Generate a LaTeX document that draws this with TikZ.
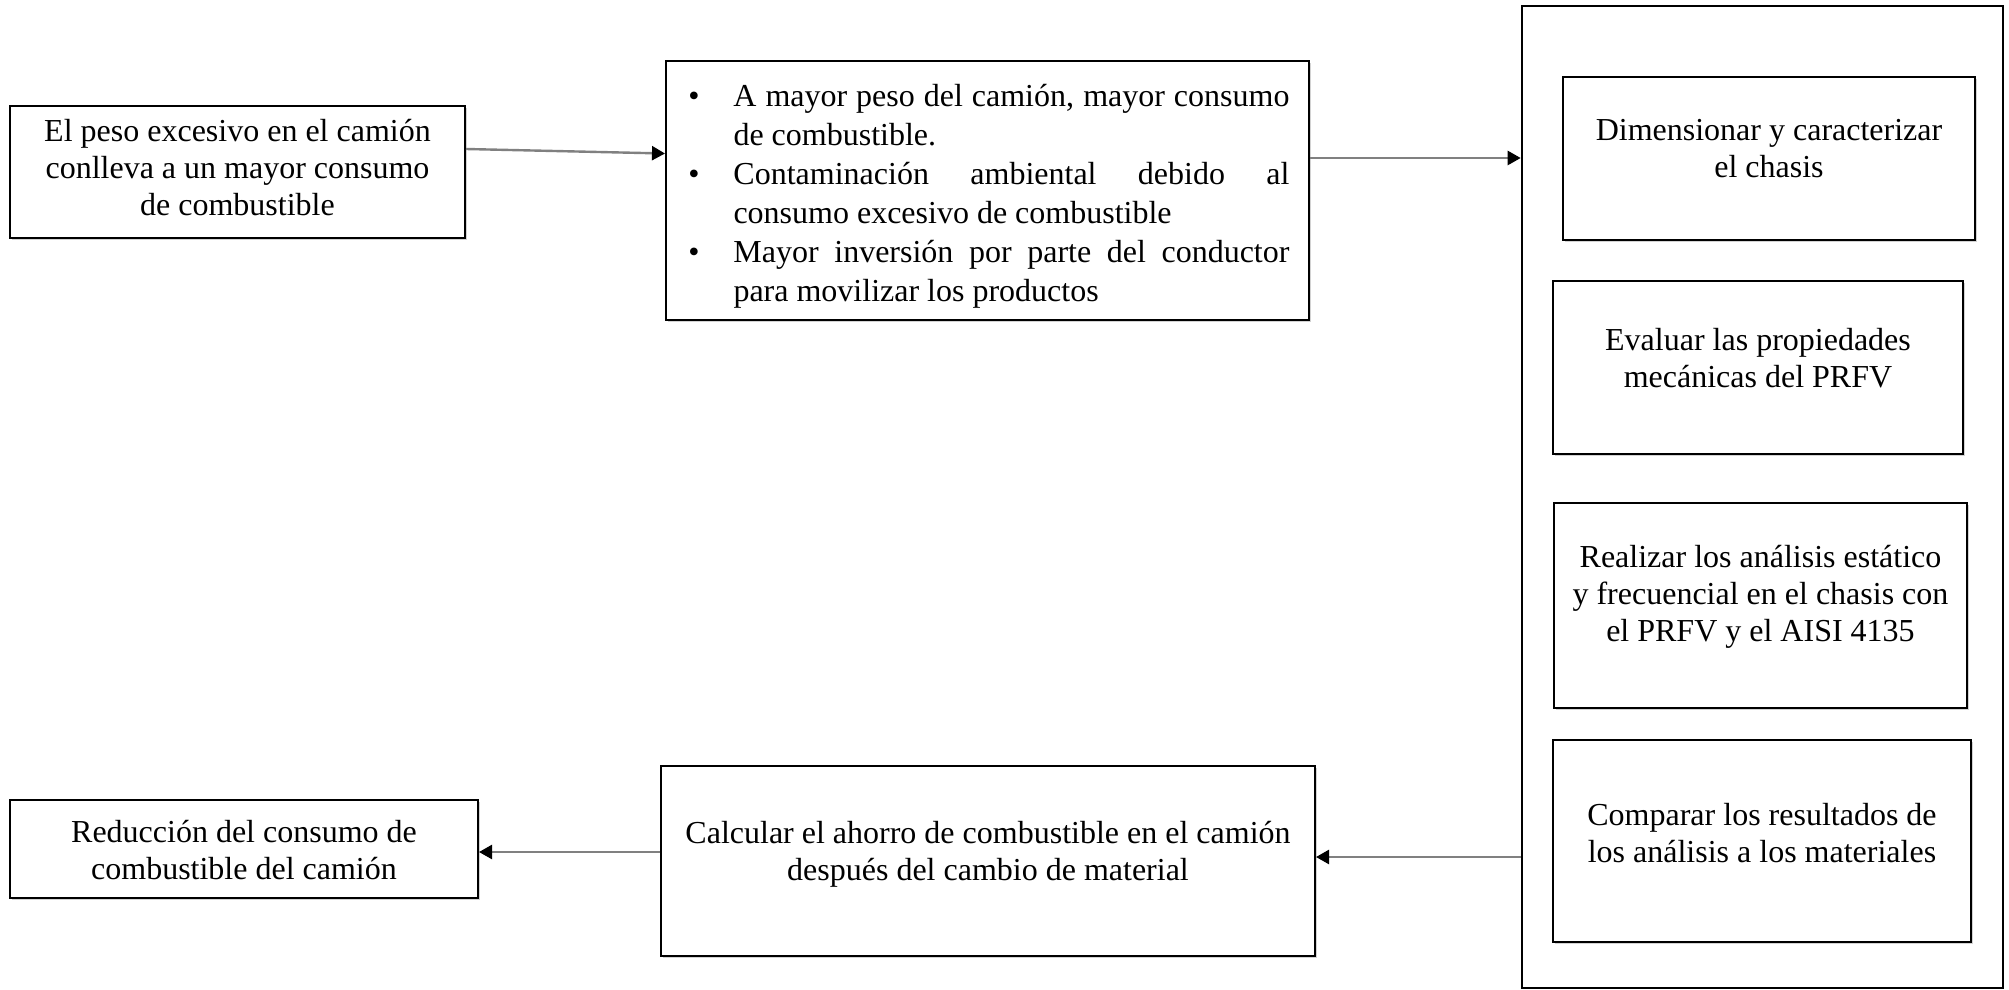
\documentclass[tikz,border=0pt]{standalone}
\usepackage{fontspec}
\setmainfont{Liberation Serif}
\usetikzlibrary{arrows.meta,shadows}
\hbadness=10000
\begin{document}
\begin{tikzpicture}[x=0.5pt,y=-0.5pt,
  box/.style={draw=black,line width=1pt,fill=white,rectangle,inner sep=0pt,
    drop shadow={shadow xshift=0.8pt,shadow yshift=-0.8pt,fill=black!35}},
  txt/.style={align=center,inner sep=0pt,font=\fontsize{16}{18.5}\selectfont},
  arr/.style={draw=black!50,line width=1.2pt,-{Triangle[length=6.5pt,width=7pt,black]}}]
\useasboundingbox (0,0) rectangle (2009,990);
% outer frame
\node[draw=black,line width=1.3pt,rectangle,inner sep=0pt,minimum width=240.5pt,minimum height=491pt] (big) at (1762.5,497) {};
% left top
\node[box,minimum width=227.5pt,minimum height=66pt] (b1) at (237.5,172) {};
\node[txt] (t1) at ([yshift=2.25pt]b1.center) {El peso excesivo en el camión\\conlleva a un mayor consumo\\de combustible};
% middle top
\node[box,minimum width=321.5pt,minimum height=129.5pt] (b2) at (987.5,190.5) {};
\node[txt,align=justify,text width=278pt,font=\fontsize{16}{19.5}\selectfont] (t2) at ([xshift=12pt,yshift=-3pt]b2.center) {%
\noindent\llap{\textbullet\hspace{17pt}}A mayor peso del camión, mayor consumo\linebreak de combustible.\par
\noindent\llap{\textbullet\hspace{17pt}}Contaminación ambiental debido al\linebreak consumo excesivo de combustible\par
\noindent\llap{\textbullet\hspace{17pt}}Mayor inversión por parte del conductor\linebreak para movilizar los productos\par};
% inner boxes
\node[box,minimum width=206pt,minimum height=81.5pt] (A) at (1769,158.5) {};
\node[txt] (tA) at ([yshift=4.75pt]A.center) {Dimensionar y caracterizar\\el chasis};
\node[box,minimum width=205pt,minimum height=86.5pt] (B) at (1758,367.5) {};
\node[txt] (tB) at ([yshift=4.5pt]B.center) {Evaluar las propiedades\\mecánicas del PRFV};
\node[box,minimum width=206.5pt,minimum height=102.5pt] (C) at (1760.5,605.5) {};
\node[txt] (tC) at ([yshift=4.25pt]C.center) {Realizar los análisis estático\\y frecuencial en el chasis con\\el PRFV y el AISI 4135};
\node[box,minimum width=209pt,minimum height=101pt] (D) at (1762,841) {};
\node[txt] (tD) at ([yshift=4pt]D.center) {Comparar los resultados de\\los análisis a los materiales};
% bottom boxes
\node[box,minimum width=327pt,minimum height=95pt] (calc) at (988,861) {};
\node[txt] (tcalc) at ([yshift=3.5pt]calc.center) {Calcular el ahorro de combustible en el camión\\después del cambio de material};
\node[box,minimum width=234pt,minimum height=49pt] (red) at (244,849) {};
\node[txt] (tred) at ([yshift=-0.75pt]red.center) {Reducción del consumo de\\combustible del camión};
% connectors
\draw[arr] ([yshift=11.5pt]b1.east) -- ([yshift=18.5pt]b2.west);
\coordinate (p2) at ([yshift=16.25pt]b2.east);
\draw[arr] (p2) -- (p2 -| big.west);
\coordinate (p3) at ([yshift=2pt]calc.east);
\draw[arr] (p3 -| big.west) -- (p3);
\coordinate (p4) at ([yshift=4.5pt]calc.west);
\draw[arr] (p4) -- (p4 -| red.east);
\end{tikzpicture}
\end{document}
